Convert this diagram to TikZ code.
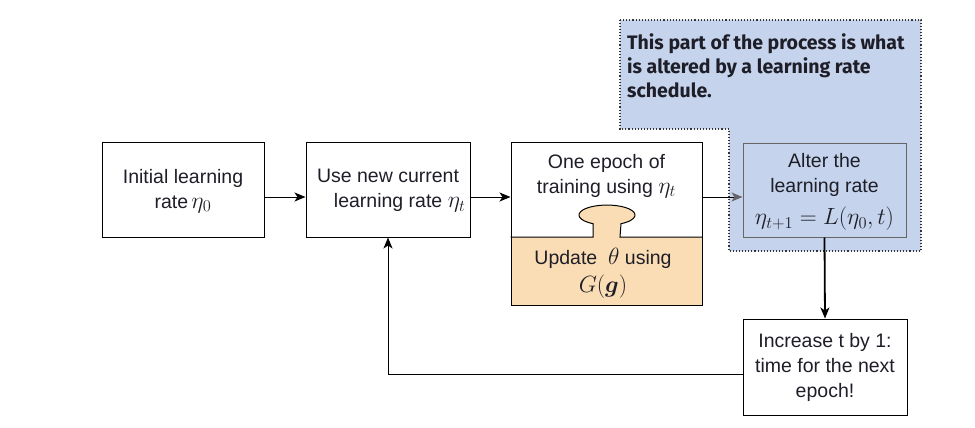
\RequirePackage{fix-cm}
\documentclass[tikz,border=0pt]{standalone}
\usepackage{amsmath,bm}
\usepackage{fontspec}
\setmainfont{Liberation Sans}
\newfontfamily\notefont{Fira Sans}
\usetikzlibrary{arrows.meta,calc}
\definecolor{schedblue}{HTML}{C5D3EC}
\definecolor{updorange}{HTML}{FADDB4}
\definecolor{boxgray}{HTML}{666666}
\definecolor{inkc}{HTML}{1E1E28}
\newcommand{\mth}[1]{{\fontsize{23.5}{25}\selectfont$#1$}}
\tikzset{
  box/.style={draw=black, line width=1pt, minimum width=162pt, minimum height=95pt, inner sep=0pt, align=center, text=inkc, font=\fontsize{19.5}{25}\selectfont},
  txt/.style={align=center, inner sep=0pt, text=inkc, font=\fontsize{19.5}{25}\selectfont},
  arr/.style={line width=1pt, -{Stealth[length=11pt,width=9pt,inset=3pt]}},
}
\begin{document}
\begin{tikzpicture}[x=1pt,y=-1pt]
\useasboundingbox (0,0) rectangle (975,428);
% schedule region
\path[fill=schedblue, draw=black!80, dotted, line width=1.1pt]
  (620,20) -- (921,20) -- (921,251) -- (729,251) -- (729,129) -- (620,129) -- cycle;
\node[align=left, anchor=north west, inner sep=0pt, text=inkc,
      font=\notefont\bfseries\fontsize{19.5}{24}\selectfont] (note) at (627,33)
  {This part of the process is what\\is altered by a learning rate\\schedule.};
% orange fills of the epoch box
\fill[updorange] (511,237) rectangle (702,305);
\fill[updorange] (593,215) rectangle (620,238);
\fill[updorange] (607,215) ellipse[x radius=28, y radius=10];
% boxes
\node[box] (A) at (183,189.5) {};
\node[txt] (At) at (183,191) {Initial learning\\rate\,\mth{\eta_0}};
\node[box, minimum width=164pt] (B) at (388,189.5) {};
\node[txt] (Bt) at (388,191) {Use new current\\\hspace*{1.2em}learning rate \mth{\eta_t}};
\node[box, minimum width=191pt, minimum height=163pt] (C) at (606.5,223.5) {};
\node[txt] (Ct) at (606.5,176) {One epoch of\\training using \mth{\eta_t}};
\node[txt] (Cb) at (603,273) {Update \ \mth{\theta} using\\[3pt]\mth{G(\bm{g})}};
\draw[line width=1pt] (C.west |- 0,237) -- (593,237) -- (593,223.7)
  arc[start angle=120, end angle=420, x radius=28, y radius=10]
  -- (620,237) -- (C.east |- 0,237);
\node[box, draw=boxgray, fill=schedblue, minimum width=163pt, minimum height=94pt] (D) at (824.5,190) {};
\node[txt] (Dt) at (824.5,192) {Alter the\\learning rate\\[7pt]\mth{\eta_{t+1} = L(\eta_0, t)}};
\node[box, minimum width=164pt, minimum height=96pt, fill=white] (E) at (825,367) {Increase t by 1:\\time for the next\\epoch!};
% connectors
\coordinate (lvl) at (0,197);
\coordinate (fb) at (0,374);
\draw[arr] (A.east |- lvl) -- (B.west |- lvl);
\draw[arr] (B.east |- lvl) -- (C.west |- lvl);
\draw[line width=1pt, -{Stealth[length=11pt,width=9pt,inset=3pt,color=boxgray]}] (C.east |- lvl) -- (D.west |- lvl);
\draw[arr, line width=1.8pt] (D.south) -- (E.north);
\draw[arr] (E.west |- fb) -| (B.south);
\end{tikzpicture}
\end{document}
